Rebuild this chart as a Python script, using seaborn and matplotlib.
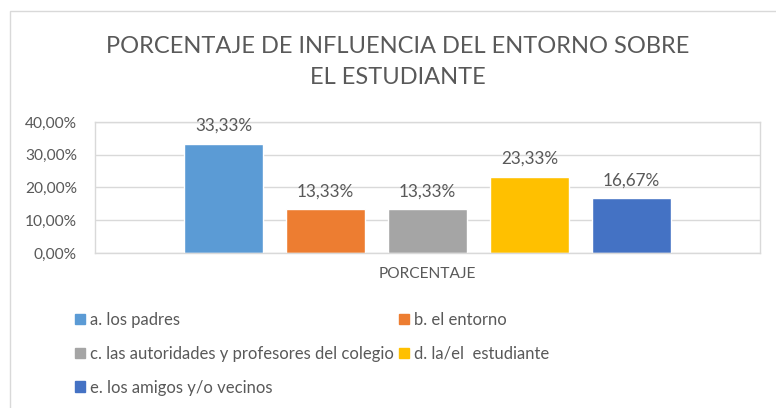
import matplotlib
matplotlib.use("Agg")
import matplotlib.pyplot as plt
import matplotlib.patches as mpatches
import pandas as pd
import seaborn as sns

# ---- data -----------------------------------------------------------------
series = [
    "a. los padres",
    "b. el entorno",
    "c. las autoridades y profesores del colegio",
    "d. la/el  estudiante",
    "e. los amigos y/o vecinos",
]
values = [33.33, 13.33, 13.33, 23.33, 16.67]
category = "PORCENTAJE"
colors = ["#5B9BD5", "#ED7D31", "#A5A5A5", "#FFC000", "#4472C4"]
yticks = [0, 10, 20, 30, 40]

df = pd.DataFrame({"cat": [category] * len(series), "serie": series, "valor": values})

sns.set_theme(style="white")
plt.rcParams["font.family"] = ["Lato", "DejaVu Sans"]
txt = "#595959"

fig = plt.figure(figsize=(7.76, 4.08), dpi=100)
ax = fig.add_axes([0.1224, 0.380, 0.857, 0.321])

sns.barplot(data=df, x="cat", y="valor", hue="serie", hue_order=series,
            palette=colors, width=0.767, gap=0.22, saturation=1,
            legend=False, ax=ax)

ax.set_xlim(-0.5, 0.5)
ax.set_ylim(0, 40)
ax.set_yticks(yticks)
ax.set_yticklabels([f"{v:.2f}%".replace(".", ",") for v in yticks],
                   color=txt, fontsize=11.2)
ax.tick_params(axis="y", length=0, pad=13)
ax.tick_params(axis="x", length=0, pad=0)
ax.set_xticks([])
ax.set_xlabel(category, color=txt, fontsize=11.2, labelpad=10)
ax.set_ylabel("")
ax.yaxis.grid(True, color="#D9D9D9", linewidth=1)
ax.set_axisbelow(True)
for s in ax.spines.values():
    s.set_color("#D9D9D9")
    s.set_linewidth(1)

for cont in ax.containers:
    ax.bar_label(cont, labels=[f"{v:.2f}%".replace(".", ",") for v in cont.datavalues],
                 padding=7, color=txt, fontsize=12.3)

fig.text(0.513, 0.848, "PORCENTAJE DE INFLUENCIA DEL ENTORNO SOBRE\nEL ESTUDIANTE",
         ha="center", va="center", fontsize=17, color=txt, linespacing=1.55)

# legend: row-major in the original, matplotlib fills columns first
handles = [mpatches.Patch(color=c, label=s) for c, s in zip(colors, series)]
order = [0, 2, 4, 1, 3]
fig.legend([handles[i] for i in order], [series[i] for i in order],
           ncol=2, loc="upper left", bbox_to_anchor=(0.088, 0.252),
           frameon=False, fontsize=12, labelcolor=txt,
           handlelength=0.6, handleheight=0.6, handletextpad=0.3,
           columnspacing=0.3, labelspacing=1.07, borderaxespad=0)

# outer chart border (right/bottom edges fall outside the crop)
fig.patches.append(mpatches.Rectangle((10 / 776, -0.1), 1.2, 1 - 11 / 408 + 0.1,
                                      transform=fig.transFigure, fill=False,
                                      edgecolor="#D9D9D9", linewidth=1))

fig.savefig("out.png", dpi=100)
